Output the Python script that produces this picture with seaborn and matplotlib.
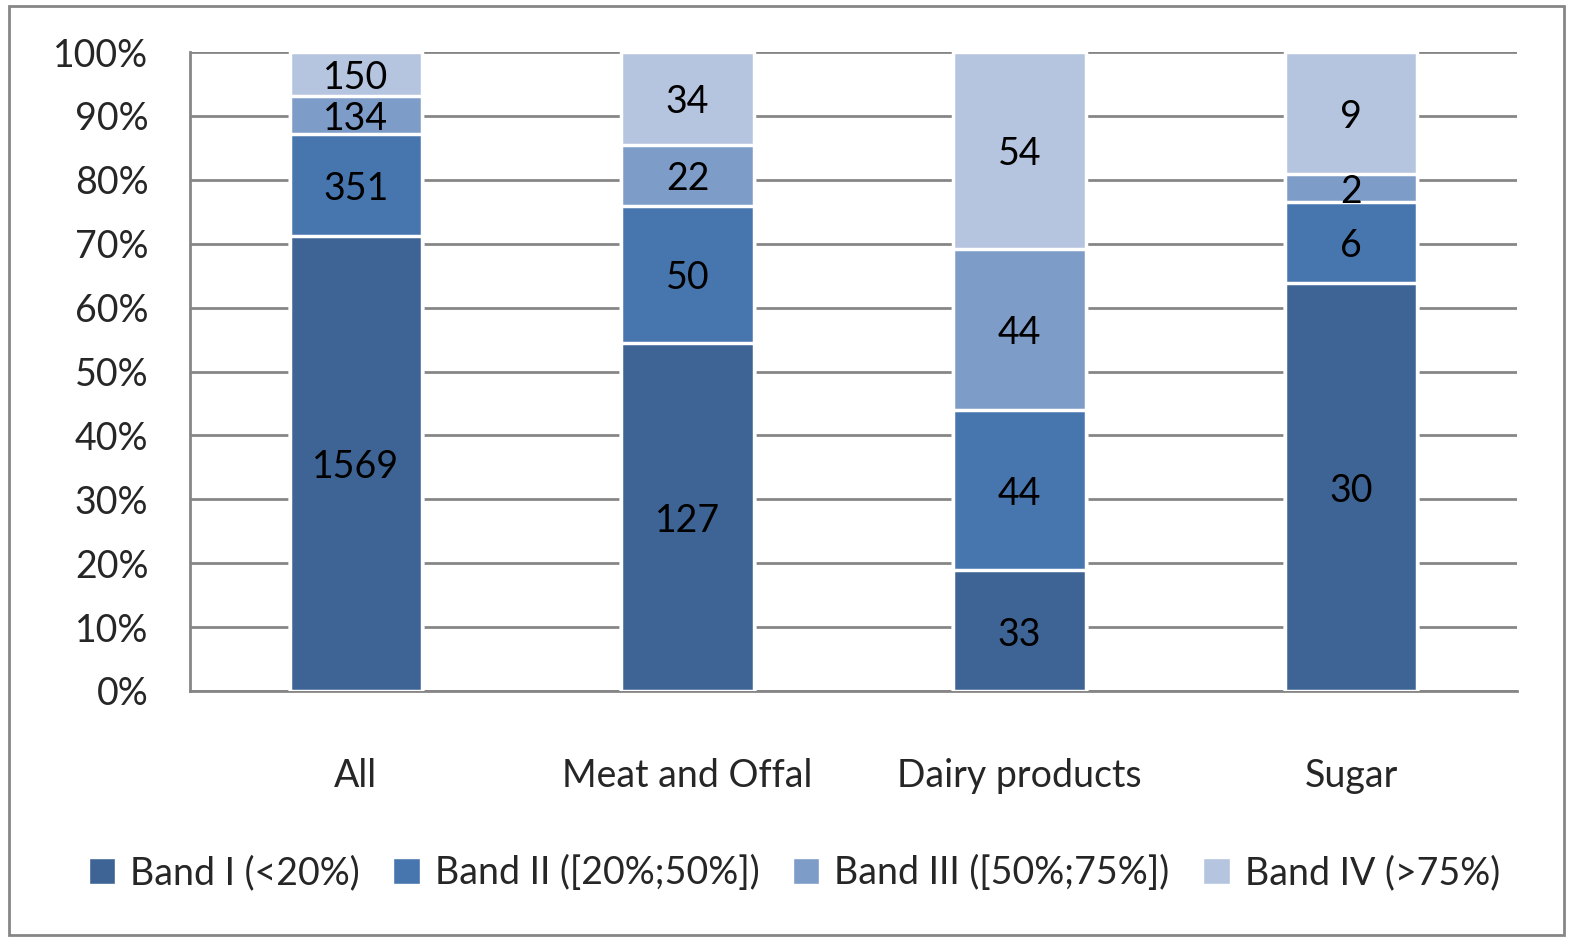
import matplotlib
matplotlib.use('Agg')
import matplotlib.pyplot as plt
import matplotlib.patches as mpatches
import seaborn as sns
import numpy as np
import pandas as pd

categories = ['All', 'Meat and Offal', 'Dairy products', 'Sugar']
bands = ['Band I (<20%)', 'Band II ([20%;50%])', 'Band III ([50%;75%])', 'Band IV (>75%)']
band_i = [1569, 127, 33, 30]
band_ii = [351, 50, 44, 6]
band_iii = [134, 22, 44, 2]
band_iv = [150, 34, 54, 9]
colors = ['#3D6494', '#4776AF', '#7E9CC8', '#B5C4DF']

counts = np.array([band_i, band_ii, band_iii, band_iv], dtype=float)
shares = counts / counts.sum(axis=0) * 100
cum = shares.cumsum(axis=0)

sns.set_style('white')
plt.rcParams['font.family'] = ['Lato', 'DejaVu Sans']
fs = 27

fig = plt.figure(figsize=(15.73, 9.41), dpi=100)
ax = fig.add_axes([0.1208, 0.2657, 0.8436, 0.679])

# draw cumulative bars from the top band down so each segment shows
for k in range(3, -1, -1):
    df = pd.DataFrame({'cat': categories, 'val': cum[k]})
    sns.barplot(data=df, x='cat', y='val', color=colors[k], width=0.4,
                edgecolor='white', linewidth=2.5, saturation=1, ax=ax, zorder=3)

for j in range(len(categories)):
    for k in range(4):
        mid = cum[k, j] - shares[k, j] / 2
        ax.text(j, mid - 0.6, f'{int(counts[k, j])}', ha='center', va='center',
                fontsize=fs, color='black', zorder=5)

ax.set_ylim(0, 100)
ax.set_xlim(-0.5, 3.5)
ax.set_yticks(np.arange(0, 101, 10))
ax.set_yticklabels([f'{v}%' for v in range(0, 101, 10)], fontsize=fs)
ax.set_xticks(range(4))
ax.set_xticklabels(categories, fontsize=fs)
ax.set_xticks(np.arange(-0.5, 4, 1), minor=True)
ax.tick_params(axis='x', which='major', length=0, pad=48)
ax.tick_params(axis='x', which='minor', length=12, width=2, color='#868686', direction='out')
ax.tick_params(axis='y', length=12, width=2, color='#868686', pad=18)
ax.set_xlabel('')
ax.set_ylabel('')
ax.yaxis.grid(True, color='#868686', linewidth=2)
ax.set_axisbelow(True)
for s in ['top', 'right']:
    ax.spines[s].set_visible(False)
for s in ['left', 'bottom']:
    ax.spines[s].set_color('#868686')
    ax.spines[s].set_linewidth(2)

handles = [mpatches.Patch(facecolor=c, edgecolor='white') for c in colors]
fig.legend(handles, bands, loc='center', bbox_to_anchor=(0.505, 0.072), ncol=4,
           frameon=False, fontsize=fs, handlelength=0.7, handleheight=0.7,
           handletextpad=0.4, columnspacing=0.9)

fig.patches.append(mpatches.Rectangle((0.006, 0.006), 0.988, 0.988, transform=fig.transFigure,
                                      fill=False, edgecolor='#868686', linewidth=2))

fig.savefig('out.png', dpi=100)
